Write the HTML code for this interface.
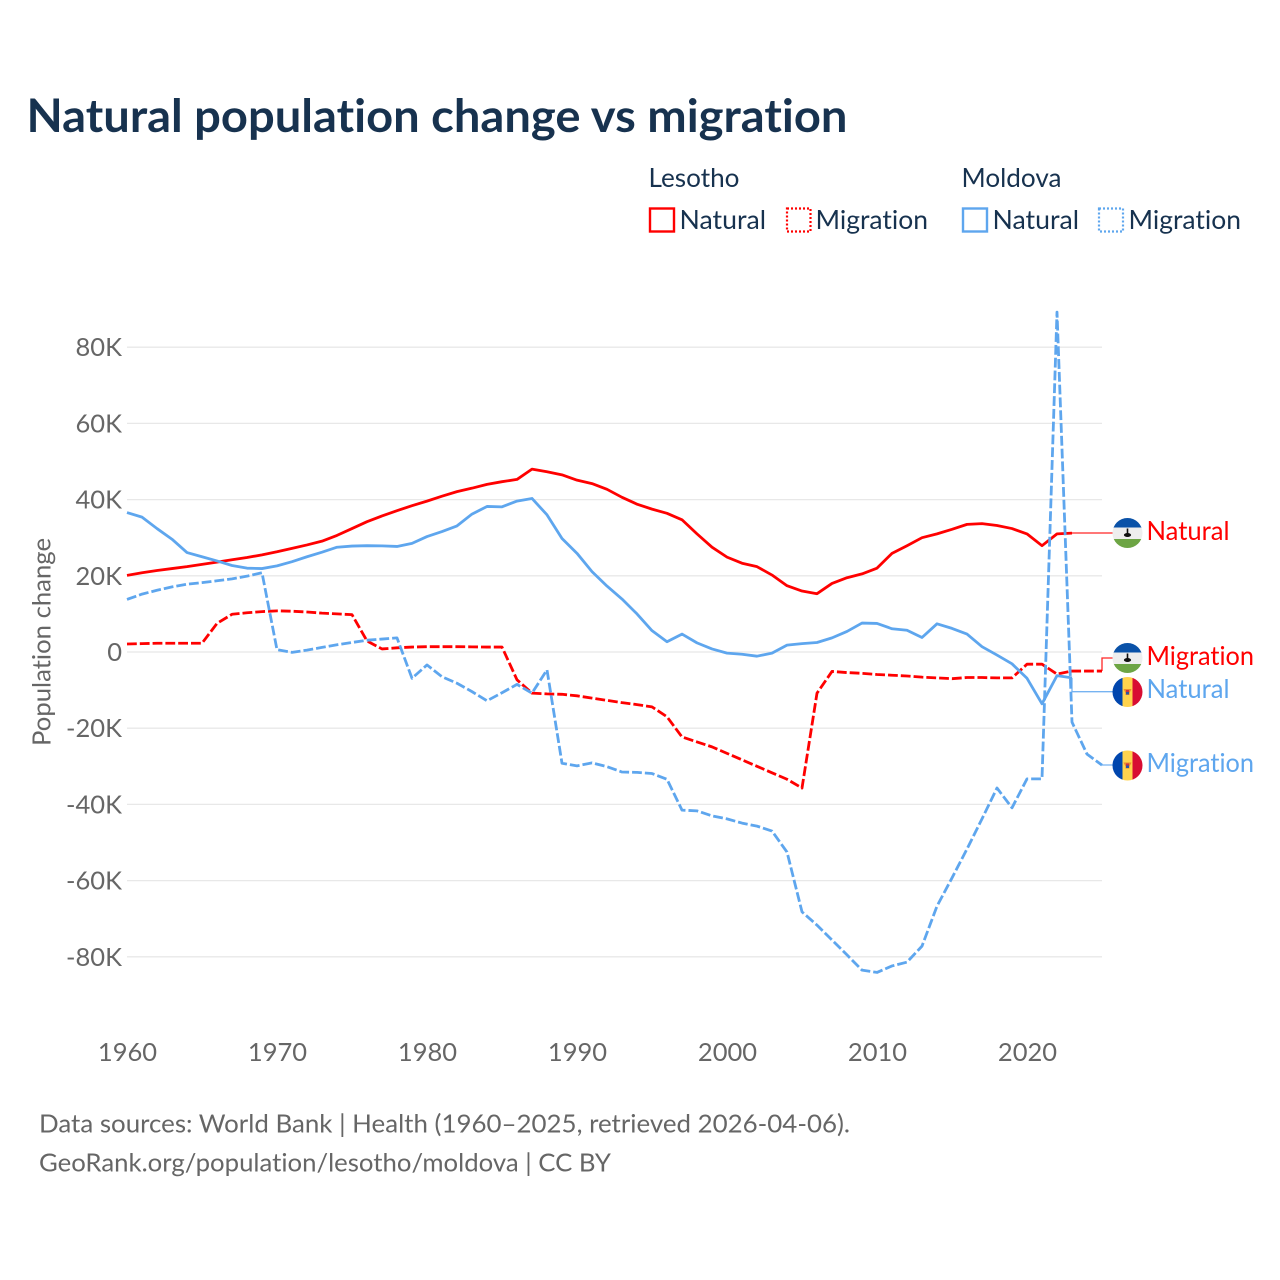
<!DOCTYPE html>
<html lang="en">
<head>
<meta charset="utf-8">
<title>Natural population change vs migration</title>
<style>
html,body{margin:0;padding:0;background:#fff;width:1280px;height:1280px;overflow:hidden}
svg{display:block}
text{font-family:"Lato","Carlito","Liberation Sans",sans-serif;font-variant-ligatures:none;font-feature-settings:"liga" 0,"clig" 0}
</style>
</head>
<body>
<svg id="chart" xmlns="http://www.w3.org/2000/svg" width="1280" height="1280" viewBox="0 0 1280 1280">
<defs>
<clipPath id="flag-clip"><circle cx="0" cy="0" r="15"/></clipPath>
<g id="flag-ls" clip-path="url(#flag-clip)">
<rect x="-15" y="-15" width="30" height="30" fill="#eeeeee"/>
<rect x="-15" y="-15" width="30" height="9.5" fill="#0a52a8"/>
<rect x="-15" y="6" width="30" height="9" fill="#6da544"/>
<rect x="-0.8" y="-4.5" width="1.6" height="6" fill="#111"/>
<ellipse cx="0" cy="2" rx="3.6" ry="2" fill="#111"/>
</g>
<g id="flag-md" clip-path="url(#flag-clip)">
<rect x="-15" y="-15" width="10" height="30" fill="#0046ae"/>
<rect x="-5" y="-15" width="10" height="30" fill="#ffd34d"/>
<rect x="5" y="-15" width="10" height="30" fill="#d80d32"/>
<path d="M-4-3H4L2 1V3H-2V1Z" fill="#ee8a2c"/>
<rect x="-1.5" y="-2" width="3" height="2" fill="#c8324a"/>
<rect x="-1.5" y="0" width="3" height="2.5" fill="#2a55a5"/>
</g>
</defs>
<rect width="1280" height="1280" fill="#ffffff"/>
<text x="26.5" y="132" font-size="46" font-weight="700" fill="#17324f" textLength="821" lengthAdjust="spacingAndGlyphs">Natural population change vs migration</text>

<g font-size="26" fill="#17324f">
<text x="648.5" y="187" textLength="91" lengthAdjust="spacingAndGlyphs">Lesotho</text>
<text x="961.5" y="187" textLength="100" lengthAdjust="spacingAndGlyphs">Moldova</text>
<g>
<rect x="650" y="208.5" width="24" height="23" fill="none" stroke="#ff0000" stroke-width="2.4"/>
<text x="679.5" y="229" textLength="86.5" lengthAdjust="spacingAndGlyphs">Natural</text>
</g>
<g>
<rect x="787" y="208.5" width="23.5" height="23" fill="none" stroke="#ff0000" stroke-width="2.2" stroke-dasharray="2 2"/>
<text x="815.5" y="229" textLength="112.5" lengthAdjust="spacingAndGlyphs">Migration</text>
</g>
<g>
<rect x="963" y="208.5" width="24" height="23" fill="none" stroke="#5ea6ee" stroke-width="2.4"/>
<text x="992.5" y="229" textLength="86.5" lengthAdjust="spacingAndGlyphs">Natural</text>
</g>
<g>
<rect x="1099" y="208.5" width="24" height="23" fill="none" stroke="#5ea6ee" stroke-width="2.2" stroke-dasharray="2 2"/>
<text x="1128.5" y="229" textLength="112.5" lengthAdjust="spacingAndGlyphs">Migration</text>
</g>
</g>

<g id="grid"></g>
<g id="y-ticks"></g>
<g id="x-ticks"></g>
<text transform="translate(50.5,642) rotate(-90)" text-anchor="middle" font-size="25.5" fill="#666666" textLength="208" lengthAdjust="spacingAndGlyphs">Population change</text>
<g id="series"></g>

<g font-size="26">
<use href="#flag-ls" x="1127.5" y="533"/>
<text x="1146.5" y="540" fill="#ff0000" textLength="83" lengthAdjust="spacingAndGlyphs">Natural</text>
<use href="#flag-ls" x="1127.5" y="658"/>
<text x="1146.5" y="665" fill="#ff0000" textLength="107.5" lengthAdjust="spacingAndGlyphs">Migration</text>
<use href="#flag-md" x="1127.5" y="692"/>
<text x="1146.5" y="698" fill="#5ea6ee" textLength="83" lengthAdjust="spacingAndGlyphs">Natural</text>
<use href="#flag-md" x="1127.5" y="765.5"/>
<text x="1146.5" y="772" fill="#5ea6ee" textLength="107.5" lengthAdjust="spacingAndGlyphs">Migration</text>
</g>

<g font-size="25.5" fill="#666666">
<text x="39" y="1132.5" textLength="811" lengthAdjust="spacingAndGlyphs">Data sources: World Bank | Health (1960–2025, retrieved 2026-04-06).</text>
<text x="39" y="1171.5" textLength="572" lengthAdjust="spacingAndGlyphs">GeoRank.org/population/lesotho/moldova | CC BY</text>
</g>
</svg>
<script>
const years = [1960,1961,1962,1963,1964,1965,1966,1967,1968,1969,1970,1971,1972,1973,1974,1975,1976,1977,1978,1979,1980,1981,1982,1983,1984,1985,1986,1987,1988,1989,1990,1991,1992,1993,1994,1995,1996,1997,1998,1999,2000,2001,2002,2003,2004,2005,2006,2007,2008,2009,2010,2011,2012,2013,2014,2015,2016,2017,2018,2019,2020,2021,2022,2023,2024,2025];
const lesothoNatural = [20.1,20.8,21.4,21.9,22.4,23.0,23.6,24.2,24.8,25.5,26.3,27.2,28.1,29.1,30.6,32.4,34.2,35.7,37.1,38.4,39.6,40.9,42.1,43.0,44.0,44.7,45.3,48.0,47.3,46.5,45.1,44.2,42.7,40.6,38.8,37.5,36.4,34.7,31.0,27.5,24.9,23.3,22.4,20.2,17.4,16.0,15.3,18.0,19.5,20.5,22.0,25.9,27.9,30.0,31.0,32.2,33.5,33.7,33.2,32.4,31.0,27.9,31.0,31.2];
const lesothoMigration = [2.1,2.2,2.3,2.3,2.3,2.3,7.5,9.9,10.3,10.6,10.8,10.7,10.5,10.2,10.0,9.8,2.9,0.8,1.1,1.3,1.4,1.4,1.4,1.35,1.3,1.3,-7.3,-10.8,-11.0,-11.1,-11.5,-12.1,-12.7,-13.3,-13.8,-14.4,-17.0,-22.3,-23.6,-24.9,-26.6,-28.3,-30.0,-31.7,-33.4,-35.7,-10.8,-5.1,-5.4,-5.6,-5.9,-6.1,-6.3,-6.6,-6.8,-7.0,-6.7,-6.7,-6.8,-6.8,-3.2,-3.2,-5.8,-5.0,-5.0,-5.0];
const moldovaNatural = [36.6,35.4,32.4,29.6,26.1,25.0,23.9,22.7,22.0,21.9,22.6,23.7,25.0,26.2,27.5,27.8,27.9,27.85,27.7,28.5,30.3,31.6,33.1,36.2,38.2,38.1,39.6,40.3,36.0,29.8,25.9,21.1,17.3,13.9,10.0,5.6,2.7,4.7,2.4,0.8,-0.3,-0.6,-1.1,-0.3,1.8,2.2,2.5,3.7,5.4,7.6,7.5,6.1,5.7,3.8,7.4,6.2,4.7,1.4,-0.8,-3.1,-6.9,-13.6,-6.2,-6.8];
const moldovaMigration = [13.8,15.2,16.2,17.1,17.8,18.2,18.7,19.2,19.9,20.8,0.6,-0.1,0.5,1.2,1.9,2.5,3.1,3.4,3.7,-6.9,-3.4,-6.5,-8.2,-10.4,-12.8,-10.7,-8.5,-10.8,-4.7,-29.2,-29.9,-29.1,-30.1,-31.5,-31.6,-31.9,-33.4,-41.5,-41.7,-43.0,-43.8,-44.9,-45.7,-47.0,-52.5,-68.2,-71.7,-75.6,-79.5,-83.5,-84.1,-82.4,-81.4,-77.2,-66.7,-59.3,-51.7,-43.8,-35.7,-40.9,-33.3,-33.3,89.2,-18.4,-26.8,-29.7];
const yTickValues = [80,60,40,20,0,-20,-40,-60,-80];
const yTickLabels = ["80K","60K","40K","20K","0","-20K","-40K","-60K","-80K"];
const xTickYears = [1960,1970,1980,1990,2000,2010,2020];
const xTickLabels = ["1960","1970","1980","1990","2000","2010","2020"];

const NS = 'http://www.w3.org/2000/svg';
const RED = '#ff0000';
const BLUE = '#5ea6ee';
function xScale(year){ return 127 + (year - 1960) * 15; }
function yScale(v){ return 652 - v * 3.81; }
function mk(tag, attrs, parent){
  const el = document.createElementNS(NS, tag);
  Object.keys(attrs).forEach(function(k){ el.setAttribute(k, attrs[k]); });
  parent.appendChild(el);
  return el;
}

const gridG = document.getElementById('grid');
const yG = document.getElementById('y-ticks');
yTickValues.forEach(function(v, i){
  const line = mk('line', {x1:127, x2:1102, y1:yScale(v), y2:yScale(v), stroke:'#e8e8e8', 'stroke-width':1.3}, gridG);
  
  
  const t = mk('text', {x:122, y:yScale(v) + 9, 'text-anchor':'end', 'font-size':25.5, fill:'#666666'}, yG);
  
  
  t.textContent = yTickLabels[i];
});

const xG = document.getElementById('x-ticks');
xTickYears.forEach(function(yr, i){
  const t = mk('text', {x:xScale(yr) + 0.5, y:1061, 'text-anchor':'middle', 'font-size':25.5, fill:'#666666'}, xG);
  
  
  t.textContent = xTickLabels[i];
});

const seriesG = document.getElementById('series');
function linePath(values){
  return values.map(function(v, i){
    return (i ? 'L' : 'M') + xScale(years[i]).toFixed(2) + ' ' + yScale(v).toFixed(2);
  }).join('');
}
function drawSeries(values, color, dashed, name){
  const p = mk('path', {d:linePath(values), fill:'none', stroke:color, 'stroke-width':2.8, 'stroke-linejoin':'round'}, seriesG);
  if (dashed) p.setAttribute('stroke-dasharray', '9.8 3');
  
  
}
function drawConnector(values, color, labelY, name){
  const i = values.length - 1;
  const lx = xScale(years[i]);
  const ly = yScale(values[i]);
  const c = mk('path', {d:'M' + lx + ' ' + ly + 'L' + lx + ' ' + labelY + 'L1113 ' + labelY, fill:'none', stroke:color, 'stroke-width':1.3, opacity:0.85}, seriesG);
  
  
}
drawConnector(lesothoNatural, RED, 533, 'connector-lesotho-natural');
drawConnector(lesothoMigration, RED, 658, 'connector-lesotho-migration');
drawConnector(moldovaNatural, BLUE, 691.7, 'connector-moldova-natural');
drawConnector(moldovaMigration, BLUE, 765, 'connector-moldova-migration');
drawSeries(lesothoNatural, RED, false, 'line-lesotho-natural');
drawSeries(lesothoMigration, RED, true, 'line-lesotho-migration');
drawSeries(moldovaNatural, BLUE, false, 'line-moldova-natural');
drawSeries(moldovaMigration, BLUE, true, 'line-moldova-migration');
</script>
</body>
</html>
